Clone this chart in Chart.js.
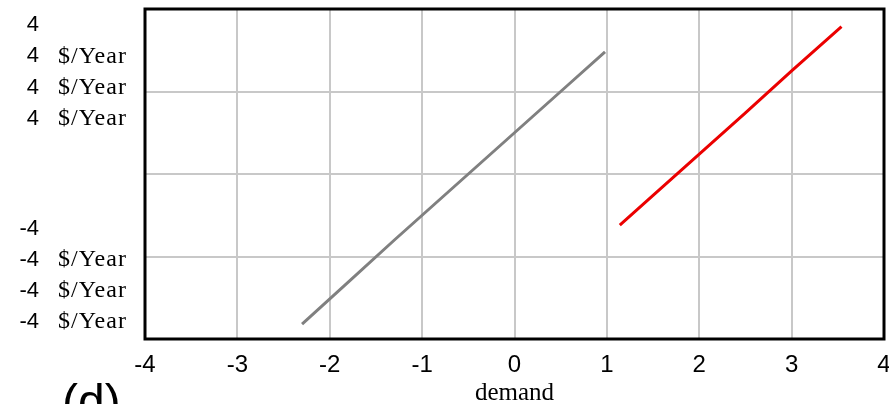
<!DOCTYPE html>
<html>
<head>
<meta charset="utf-8">
<script src="https://cdn.jsdelivr.net/npm/chart.js@4.4.1/dist/chart.umd.min.js"></script>
<style>
  html, body { margin: 0; padding: 0; background: #fff; }
  #wrap { width: 889px; height: 404px; }
</style>
</head>
<body>
<div id="wrap"><canvas id="myChart" width="889" height="404"></canvas></div>
<script>
// values
const grayX = [-2.30, -1.8, -1.3, -0.8, -0.3, 0.2, 0.6, 0.98];
const grayY = [-3.64, -2.62, -1.60, -0.60, 0.40, 1.40, 2.20, 2.96];
const redX = [1.14, 1.5, 2.0, 2.5, 3.0, 3.54];
const redY = [-1.24, -0.52, 0.48, 1.48, 2.50, 3.57];

const xTicks = [-4, -3, -2, -1, 0, 1, 2, 3, 4];
const yTopNums = ['4', '4', '4', '4'];
const yBottomNums = ['-4', '-4', '-4', '-4'];
const yUnits = ['', '$/Year', '$/Year', '$/Year'];
const xTitle = 'demand';
const panelTag = '(d)';

function toPoints(xs, ys) {
  return xs.map((x, i) => ({ x: x, y: ys[i] }));
}

const sideLabels = {
  id: 'sideLabels',
  afterDraw(chart) {
    const ctx = chart.ctx;
    const area = chart.chartArea;
    ctx.save();
    // frame
    ctx.strokeStyle = '#000';
    ctx.lineWidth = 3;
    ctx.strokeRect(area.left, area.top, area.right - area.left, area.bottom - area.top);

    ctx.fillStyle = '#000';
    ctx.textBaseline = 'middle';
    for (let i = 0; i < 4; i++) {
      const yTop = area.top + 16 + i * 31.3;
      const yBot = area.bottom - 110 + i * 31;
      ctx.font = '22px "Liberation Sans", Arial, sans-serif';
      ctx.letterSpacing = '0px';
      ctx.textAlign = 'right';
      ctx.fillText(yTopNums[i], 39, yTop);
      ctx.fillText(yBottomNums[i], 39, yBot);
      if (yUnits[i]) {
        ctx.font = '24px "Liberation Serif", "Times New Roman", serif';
        ctx.letterSpacing = '1px';
        ctx.textAlign = 'left';
        ctx.fillText(yUnits[i], 58, yTop);
        ctx.fillText(yUnits[i], 58, yBot);
      }
    }
    ctx.letterSpacing = '0px';
    ctx.font = '48px "Liberation Sans", Arial, sans-serif';
    ctx.textAlign = 'left';
    ctx.textBaseline = 'alphabetic';
    ctx.fillText(panelTag, 62, 418);
    ctx.restore();
  }
};

const chart = new Chart(document.getElementById('myChart'), {
  type: 'scatter',
  data: {
    datasets: [
      {
        label: 'gray',
        data: toPoints(grayX, grayY),
        showLine: true,
        borderColor: 'rgb(128,128,128)',
        borderWidth: 3,
        pointRadius: 0,
        tension: 0
      },
      {
        label: 'red',
        data: toPoints(redX, redY),
        showLine: true,
        borderColor: 'rgb(235,0,0)',
        borderWidth: 3,
        pointRadius: 0,
        tension: 0
      }
    ]
  },
  options: {
    responsive: false,
    animation: false,
    layout: { padding: { top: 9, right: 5, left: 0, bottom: 0 } },
    plugins: {
      legend: { display: false },
      tooltip: { enabled: false }
    },
    scales: {
      x: {
        type: 'linear',
        min: -4,
        max: 4,
        afterBuildTicks: (scale) => { scale.ticks = xTicks.map(v => ({ value: v })); },
        afterFit: (scale) => { scale.height = 65; scale.paddingLeft = 0; scale.paddingRight = 0; },
        grid: { color: 'rgb(200,200,200)', lineWidth: 2, drawTicks: false },
        border: { display: false },
        ticks: {
          color: '#000',
          padding: 12,
          maxRotation: 0,
          font: { family: '"Liberation Sans", Arial, sans-serif', size: 24 }
        },
        title: {
          display: true,
          text: xTitle,
          color: '#000',
          padding: { top: 0, bottom: -4 },
          font: { family: '"Liberation Serif", "Times New Roman", serif', size: 25 }
        }
      },
      y: {
        min: -4,
        max: 4,
        afterFit: (scale) => { scale.width = 145; },
        grid: { color: 'rgb(200,200,200)', lineWidth: 2, drawTicks: false },
        border: { display: false },
        ticks: { display: false, stepSize: 2 }
      }
    }
  },
  plugins: [sideLabels]
});
</script>
</body>
</html>
